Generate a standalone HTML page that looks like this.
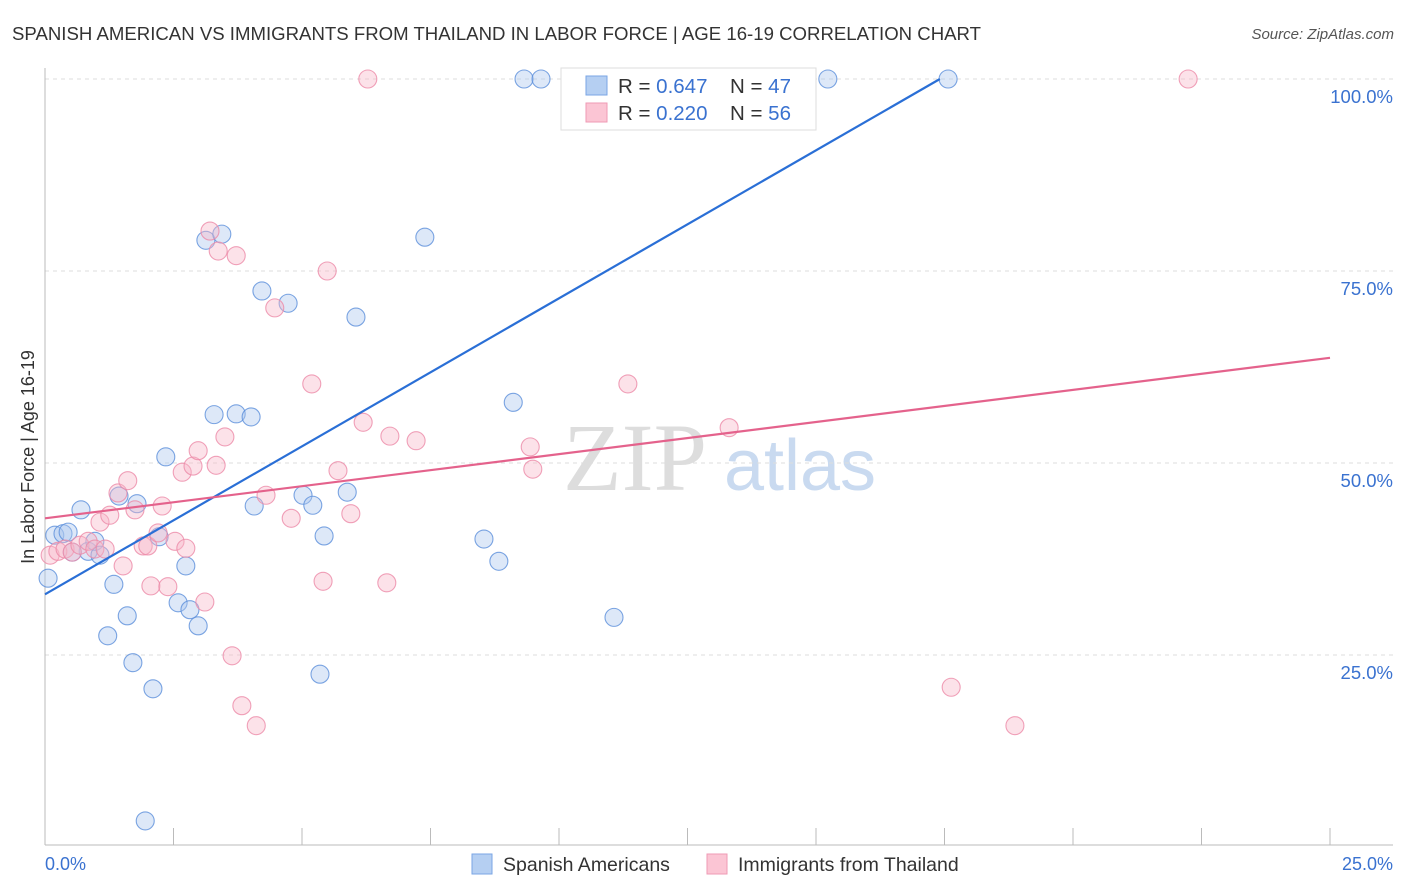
<!DOCTYPE html>
<html><head><meta charset="utf-8"><style>
body{margin:0;background:#fff;font-family:"Liberation Sans",sans-serif}
svg{display:block}
</style></head><body>
<svg id="chart" width="1406" height="892">
<text x="12" y="40" font-size="18.6" fill="#333" textLength="969">SPANISH AMERICAN VS IMMIGRANTS FROM THAILAND IN LABOR FORCE | AGE 16-19 CORRELATION CHART</text>
<text x="1394" y="39" font-size="15" fill="#555" font-style="italic" text-anchor="end">Source: ZipAtlas.com</text>
<g><text x="635" y="490" font-size="96" font-family="Liberation Serif" fill="#ddd" text-anchor="middle">ZIP</text><text x="800" y="490" font-size="72" fill="#c9daf0" text-anchor="middle">atlas</text></g>
<g id="grid"></g><g id="axes"></g><g id="pts"></g><g id="lines"></g>
<text transform="translate(34,457) rotate(-90)" font-size="18" fill="#333" text-anchor="middle">In Labor Force | Age 16-19</text>
<text x="45" y="870" font-size="18" fill="#3a72d0">0.0%</text>
<text x="1393" y="870" font-size="18" fill="#3a72d0" text-anchor="end">25.0%</text>
<g>
<rect x="561" y="68" width="255" height="62" fill="#fff" stroke="#ddd"/>
<rect x="586" y="76" width="21" height="19" fill="#b5cff2" stroke="#7aa6e4"/>
<rect x="586" y="103" width="21" height="19" fill="#fbc5d4" stroke="#ef9ab4"/>
<text x="618" y="93" font-size="20.5" fill="#333">R = <tspan fill="#3a72d0">0.647</tspan><tspan x="730">N = </tspan><tspan fill="#3a72d0">47</tspan></text>
<text x="618" y="120" font-size="20.5" fill="#333">R = <tspan fill="#3a72d0">0.220</tspan><tspan x="730">N = </tspan><tspan fill="#3a72d0">56</tspan></text>
</g>
<g>
<rect x="472" y="854" width="20" height="20" fill="#b5cff2" stroke="#7aa6e4"/>
<text x="503" y="871" font-size="19.5" fill="#333">Spanish Americans</text>
<rect x="707" y="854" width="20" height="20" fill="#fbc5d4" stroke="#ef9ab4"/>
<text x="738" y="871" font-size="19.5" fill="#333">Immigrants from Thailand</text>
</g>
</svg>
<script>
const yTicks=[25,50,75,100];
const yTickLabels=["25.0%","50.0%","75.0%","100.0%"];
const xTickVals=[0,2.5,5,7.5,10,12.5,15,17.5,20,22.5,25];
const blueX=[0.06,0.19,0.35,0.45,0.70,0.84,0.97,1.07,1.22,1.34,1.44,1.60,1.71,1.79,2.10,2.22,2.35,2.59,2.74,2.82,2.98,3.13,3.44,3.29,3.72,4.01,4.07,4.22,4.73,5.02,5.21,5.35,5.43,5.88,6.05,7.39,8.54,8.83,9.11,9.32,9.65,10.47,11.07,15.23,17.57,1.95,0.53];
const blueY=[35.0,40.6,40.8,41.0,43.9,38.5,39.8,38.0,27.5,34.2,45.7,30.1,24.0,44.7,20.6,40.4,50.8,31.8,36.6,30.9,28.8,79.0,79.8,56.3,56.4,56.0,44.4,72.4,70.8,45.8,44.5,22.5,40.5,46.2,69.0,79.4,40.1,37.2,57.9,100,100,100,29.9,100,100,3.4,38.4];
const pinkX=[0.10,0.25,0.39,0.53,0.68,0.84,0.97,1.07,1.17,1.26,1.42,1.52,1.61,1.75,1.91,2.00,2.06,2.20,2.28,2.39,2.53,2.67,2.74,2.88,2.98,3.11,3.21,3.33,3.37,3.50,3.64,3.72,3.83,4.11,4.30,4.47,4.79,5.19,5.41,5.49,5.70,5.95,6.19,6.28,6.65,6.71,7.22,9.44,9.49,11.34,13.31,17.63,18.87,22.24];
const pinkY=[38.0,38.5,38.8,38.4,39.3,39.8,38.8,42.3,38.8,43.2,46.1,36.6,47.7,43.9,39.2,39.2,34.0,40.9,44.4,33.9,39.8,48.8,38.9,49.6,51.6,31.9,80.2,49.7,77.6,53.4,24.9,77.0,18.4,15.8,45.8,70.2,42.8,60.3,34.6,75.0,49.0,43.4,55.3,100,34.4,53.5,52.9,52.1,49.2,60.3,54.6,20.8,15.8,100];
const blueTrend=[[0,32.9],[17.41,100]];
const pinkTrend=[[0,42.8],[25,63.7]];
const X=v=>45+v/25*1285, Y=v=>847-v/100*768;
const NS="http://www.w3.org/2000/svg";
function mk(parent,tag,attrs){const e=document.createElementNS(NS,tag);for(const k in attrs)e.setAttribute(k,attrs[k]);document.getElementById(parent).appendChild(e);return e;}
yTicks.forEach((t,i)=>{
 const l=mk('grid','line',{x1:45,x2:1393,y1:Y(t),y2:Y(t),stroke:'#ddd','stroke-dasharray':'4,4'});
 
 
 const tx=mk('grid','text',{x:1393,y:Y(t)+24,'font-size':18.5,fill:'#3a72d0','text-anchor':'end'});
 tx.textContent=yTickLabels[i];
 
 
});
let a=mk('axes','line',{x1:45,x2:1393,y1:845,y2:845,stroke:'#bbb'});


a=mk('axes','line',{x1:45,x2:45,y1:68,y2:845,stroke:'#bbb'});


xTickVals.forEach(v=>{const t=mk('axes','line',{x1:X(v),x2:X(v),y1:828,y2:845,stroke:'#bbb'});
 
 });
function dots(xs,ys,fill,stroke,name){xs.forEach((x,i)=>{
 const c=mk('pts','circle',{cx:X(x),cy:Y(ys[i]),r:9,fill:fill,'fill-opacity':0.4,stroke:stroke,'stroke-opacity':0.8,'stroke-width':1.1});
 
 });}
dots(blueX,blueY,'#a9c6ee','#5b8fdb','point-spanish-american');
dots(pinkX,pinkY,'#f8b7c9','#ec8aa8','point-thailand');
let l=mk('lines','line',{x1:X(blueTrend[0][0]),y1:Y(blueTrend[0][1]),x2:X(blueTrend[1][0]),y2:Y(blueTrend[1][1]),stroke:'#2a6fd6','stroke-width':2.2});


l=mk('lines','line',{x1:X(pinkTrend[0][0]),y1:Y(pinkTrend[0][1]),x2:X(pinkTrend[1][0]),y2:Y(pinkTrend[1][1]),stroke:'#e4628c','stroke-width':2.2});


</script>
</body></html>
